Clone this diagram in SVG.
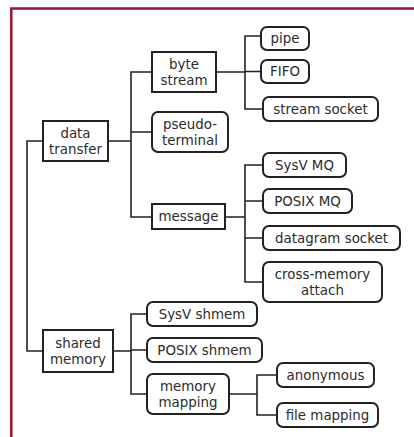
<svg xmlns="http://www.w3.org/2000/svg" width="414" height="437" viewBox="0 0 414 437">
<style>
.sq{fill:#fff;stroke:#222;stroke-width:2}
.rd{fill:#fff;stroke:#222;stroke-width:2}
.c{fill:none;stroke:#222;stroke-width:1.6}
text{font-family:"DejaVu Sans",Verdana,sans-serif;font-size:13.4px;fill:#2b2b2b;text-anchor:middle;dominant-baseline:central}
</style>
<rect width="414" height="437" fill="#fff"/>
<path d="M11.3,437 V8.5 H414" fill="none" stroke="#9b1232" stroke-width="2.5"/>
<g id="connectors" class="c">
<path d="M43,141 H27 V351 H43"/>
<path d="M108,141 H131 M152,72 H131 V217 H152 M131,132 H152"/>
<path d="M113,351 H131 M147,314 H131 V394 H147 M131,350 H147"/>
<path d="M216,72 H245 M261,36 H245 V109 H263 M245,71.5 H261"/>
<path d="M225,217 H245 M263,165 H245 V282 H263 M245,201 H263 M245,238 H263"/>
<path d="M229,394 H257 M277,375 H257 V415 H277"/>
</g>
<g id="data-transfer"><rect class="sq" x="43" y="121" width="65" height="40"/><text x="75.5" y="133">data</text><text x="75.5" y="149">transfer</text></g>
<g id="shared-memory"><rect class="sq" x="43" y="330" width="70" height="42"/><text x="78" y="343">shared</text><text x="78" y="359">memory</text></g>
<g id="byte-stream"><rect class="sq" x="152" y="52" width="64" height="40"/><text x="184" y="64">byte</text><text x="184" y="80">stream</text></g>
<g id="pseudo-terminal"><rect class="rd" x="152" y="112" width="76" height="40" rx="6"/><text x="190" y="124">pseudo-</text><text x="190" y="140">terminal</text></g>
<g id="message"><rect class="sq" x="152" y="204" width="73" height="25"/><text x="188.5" y="216.5">message</text></g>
<g id="pipe"><rect class="rd" x="261" y="27" width="48" height="23" rx="6"/><text x="285" y="38.5">pipe</text></g>
<g id="fifo"><rect class="rd" x="261" y="60" width="48" height="23" rx="6"/><text x="285" y="71.5">FIFO</text></g>
<g id="stream-socket"><rect class="rd" x="263" y="97" width="115" height="24" rx="6"/><text x="320.5" y="109">stream socket</text></g>
<g id="sysv-mq"><rect class="rd" x="263" y="153" width="83" height="24" rx="6"/><text x="304.5" y="165">SysV MQ</text></g>
<g id="posix-mq"><rect class="rd" x="263" y="189" width="89" height="24" rx="6"/><text x="307.5" y="201">POSIX MQ</text></g>
<g id="datagram-socket"><rect class="rd" x="263" y="226" width="137" height="24" rx="6"/><text x="331.5" y="238">datagram socket</text></g>
<g id="cross-memory-attach"><rect class="rd" x="263" y="262" width="119" height="40" rx="6"/><text x="322.5" y="274">cross-memory</text><text x="322.5" y="290">attach</text></g>
<g id="sysv-shmem"><rect class="rd" x="147" y="302" width="110" height="24" rx="6"/><text x="202" y="314">SysV shmem</text></g>
<g id="posix-shmem"><rect class="rd" x="147" y="338" width="115" height="24" rx="6"/><text x="204.5" y="350">POSIX shmem</text></g>
<g id="memory-mapping"><rect class="rd" x="147" y="374" width="82" height="40" rx="6"/><text x="188" y="386">memory</text><text x="188" y="402">mapping</text></g>
<g id="anonymous"><rect class="rd" x="277" y="363" width="97" height="24" rx="6"/><text x="325.5" y="375">anonymous</text></g>
<g id="file-mapping"><rect class="rd" x="277" y="403" width="101" height="24" rx="6"/><text x="327.5" y="415">file mapping</text></g>
</svg>
